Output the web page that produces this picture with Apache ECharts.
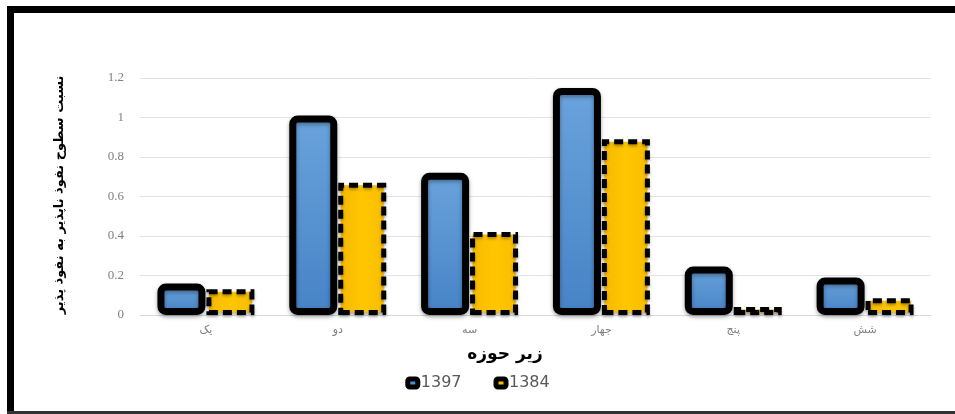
<!DOCTYPE html>
<html>
<head>
<meta charset="utf-8">
<script src="https://cdn.jsdelivr.net/npm/echarts@6/dist/echarts.min.js"></script>
<style>
  html, body { margin: 0; padding: 0; background: #ffffff; }
  #chart { width: 955px; height: 414px; }
</style>
</head>
<body>
<div id="chart"></div>
<script>
// Sub-basins and ratio of impervious to pervious surface
const categories = ['یک', 'دو', 'سه', 'جهار', 'پنج', 'شش'];
const series1397 = [0.16, 1.01, 0.72, 1.15, 0.245, 0.19];
const series1384 = [0.13, 0.67, 0.42, 0.89, 0.04, 0.085];
const yTicks = [0, 0.2, 0.4, 0.6, 0.8, 1, 1.2];

const arabicFont = 'DejaVu Sans';

const chart = echarts.init(document.getElementById('chart'));

const blueFill = new echarts.graphic.LinearGradient(0, 0, 0, 1, [
  { offset: 0, color: '#6aa3dc' },
  { offset: 1, color: '#4683c6' }
]);
const yellowFill = new echarts.graphic.LinearGradient(0, 0, 1, 0, [
  { offset: 0, color: '#f6b800' },
  { offset: 0.5, color: '#ffc600' },
  { offset: 1, color: '#f9bd00' }
]);

chart.setOption({
  animation: false,
  backgroundColor: '#ffffff',
  graphic: [
    // frame
    { type: 'rect', shape: { x: 7, y: 6, width: 960, height: 7 }, style: { fill: '#000' } },
    { type: 'rect', shape: { x: 7, y: 6, width: 7, height: 406 }, style: { fill: '#000' } },
    { type: 'rect', shape: { x: 7, y: 411, width: 960, height: 3 }, style: { fill: '#333' } },
    // axis titles
    {
      type: 'text',
      x: 60, y: 195, rotation: Math.PI / 2,
      style: {
        text: 'نسبت سطوح نفوذ ناپذیر به نفوذ پذیر',
        font: 'bold 13px "DejaVu Sans"', fill: '#000',
        textAlign: 'center', textVerticalAlign: 'middle'
      }
    },
    {
      type: 'text',
      x: 505, y: 355,
      style: {
        text: 'زیر حوزه',
        font: 'bold 17px "DejaVu Sans"', fill: '#000',
        textAlign: 'center', textVerticalAlign: 'middle'
      }
    }
  ],
  grid: { left: 140, right: 24, top: 78, bottom: 99 },
  legend: {
    data: [
      { name: '1397', itemStyle: { color: '#4a8fd8', borderColor: '#000', borderWidth: 5 } },
      { name: '1384', itemStyle: { color: '#ffc000', borderColor: '#000', borderWidth: 5 } }
    ],
    icon: 'roundRect',
    top: 370,
    left: 'center',
    itemWidth: 10,
    itemHeight: 8,
    itemGap: 32,
    textStyle: { color: '#595959', fontSize: 16, fontFamily: 'DejaVu Sans', padding: [0, 0, 0, -2] }
  },
  xAxis: {
    type: 'category',
    data: categories,
    axisLine: { lineStyle: { color: '#d9d9d9', width: 1 } },
    axisTick: { show: false },
    axisLabel: { color: '#7f7f7f', fontSize: 11, fontFamily: arabicFont, margin: 10 }
  },
  yAxis: {
    type: 'value',
    min: 0,
    max: 1.2,
    interval: 0.2,
    axisLine: { show: false },
    axisTick: { show: false },
    splitLine: { lineStyle: { color: '#e3e3e3', width: 1 } },
    axisLabel: {
      color: '#7f7f7f', fontSize: 13, fontFamily: 'Liberation Serif', margin: 16,
      formatter: v => {
        const t = yTicks.find(k => Math.abs(k - v) < 1e-9);
        return t === undefined ? '' : String(t);
      }
    }
  },
  series: [
    {
      name: '1397',
      type: 'bar',
      data: series1397,
      barWidth: 48,
      barGap: '2%',
      itemStyle: {
        color: blueFill,
        borderColor: '#000',
        borderWidth: 7,
        borderRadius: 5,
        shadowColor: 'rgba(0,0,0,0.35)',
        shadowBlur: 4,
        shadowOffsetY: 2
      }
    },
    {
      name: '1384',
      type: 'bar',
      data: series1384,
      barWidth: 48,
      itemStyle: {
        color: yellowFill,
        borderColor: '#000',
        borderWidth: 5,
        borderType: [9, 5],
        shadowColor: 'rgba(0,0,0,0.3)',
        shadowBlur: 3,
        shadowOffsetY: 2
      }
    }
  ]
});
</script>
</body>
</html>
